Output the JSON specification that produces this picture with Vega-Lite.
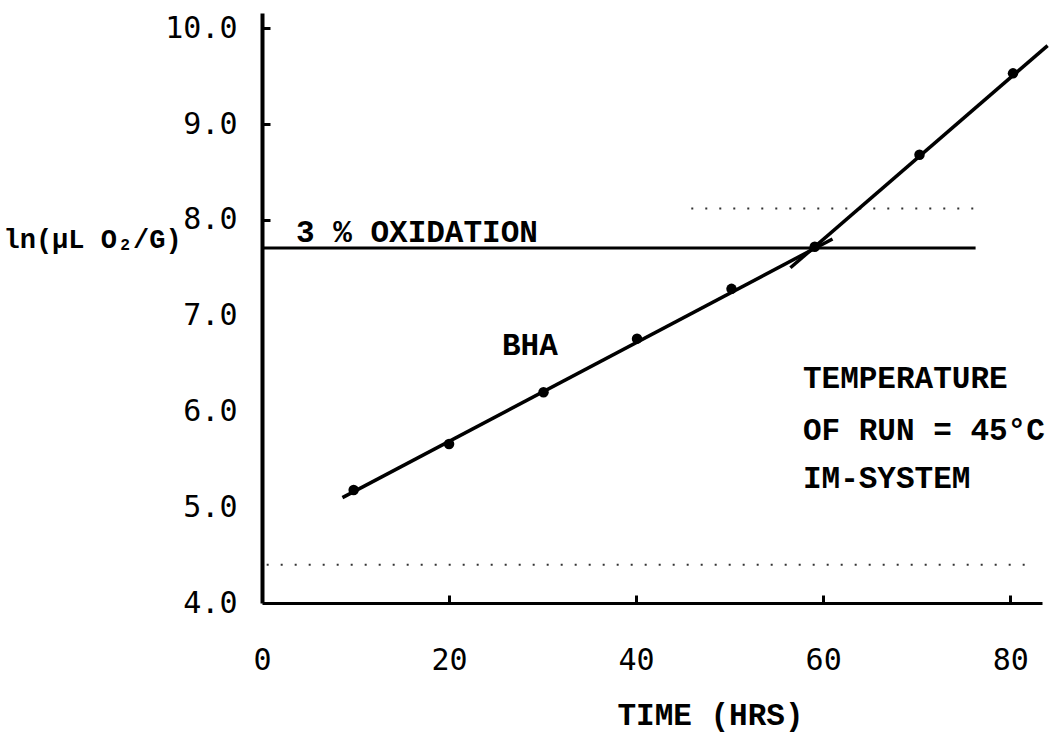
{
  "$schema": "https://vega.github.io/schema/vega-lite/v6.json",
  "width": 780,
  "height": 590,
  "autosize": {"type": "none"},
  "padding": {"left": 262, "top": 13, "right": 12, "bottom": 134},
  "background": "white",
  "config": {"view": {"stroke": null}, "axis": {"grid": false}},
  "datasets": {
    "points": [
      {"t": 9.8, "v": 5.18},
      {"t": 20.0, "v": 5.66},
      {"t": 30.1, "v": 6.2},
      {"t": 40.1, "v": 6.76},
      {"t": 50.2, "v": 7.28},
      {"t": 59.1, "v": 7.72},
      {"t": 70.3, "v": 8.68},
      {"t": 80.3, "v": 9.53}
    ],
    "fits": [
      {"seg": "lower", "t": 8.6, "v": 5.1},
      {"seg": "lower", "t": 61.0, "v": 7.8},
      {"seg": "upper", "t": 56.5, "v": 7.5},
      {"seg": "upper", "t": 84.0, "v": 9.82}
    ],
    "level": [{"t": 0, "t2": 76.3, "v": 7.706}],
    "dots": [
      {"t": 45.9, "t2": 76.3, "v": 8.12},
      {"t": 0.5, "t2": 82.0, "v": 4.4}
    ],
    "notes": [
      {"t": 3.64, "v": 7.77, "label": "3 % OXIDATION"},
      {"t": 25.66, "v": 6.59, "label": "BHA"},
      {"t": 57.84, "v": 6.245, "label": "TEMPERATURE"},
      {"t": 57.84, "v": 5.7, "label": "OF RUN = 45°C"},
      {"t": 57.84, "v": 5.2, "label": "IM-SYSTEM"}
    ]
  },
  "layer": [
    {
      "data": {"name": "points"},
      "mark": {"type": "point", "filled": true, "color": "black", "size": 110, "opacity": 1},
      "encoding": {
        "x": {
          "field": "t", "type": "quantitative",
          "scale": {"domain": [0, 83.4], "nice": false, "zero": false},
          "axis": {
            "values": [0, 20, 40, 60, 80], "format": "d",
            "title": "TIME (HRS)",
            "titleFont": "Liberation Mono", "titleFontSize": 31, "titleFontWeight": "bold", "titleColor": "black",
            "titleX": 448, "titleY": 121, "titleAlign": "center", "titleBaseline": "alphabetic",
            "labelFont": "DejaVu Sans Mono", "labelFontSize": 30, "labelColor": "black", "labelPadding": 50,
            "domainColor": "black", "domainWidth": 3,
            "tickColor": "black", "tickWidth": 3, "tickSize": -8,
            "tickOpacity": {"condition": {"test": "datum.value > 0", "value": 1}, "value": 0},
            "labelFlush": false
          }
        },
        "y": {
          "field": "v", "type": "quantitative",
          "scale": {"domain": [4, 10.16], "nice": false, "zero": false},
          "axis": {
            "values": [4, 5, 6, 7, 8, 9, 10], "format": ".1f",
            "title": "ln(μL O₂/G)",
            "titleFont": "Liberation Mono", "titleFontSize": 27, "titleFontWeight": "bold", "titleColor": "black",
            "titleAngle": 0, "titleX": -259, "titleY": 234, "titleAlign": "left", "titleBaseline": "alphabetic",
            "labelFont": "DejaVu Sans Mono", "labelFontSize": 30, "labelColor": "black", "labelPadding": 33,
            "domainColor": "black", "domainWidth": 4,
            "tickColor": "black", "tickWidth": 3, "tickSize": -8,
            "tickOpacity": {"condition": {"test": "datum.value >= 8", "value": 1}, "value": 0},
            "labelFlush": false
          }
        }
      }
    },
    {
      "data": {"name": "dots"},
      "mark": {"type": "rule", "color": "#333333", "strokeWidth": 2, "strokeDash": [2, 12]},
      "encoding": {
        "x": {"field": "t", "type": "quantitative"},
        "x2": {"field": "t2"},
        "y": {"field": "v", "type": "quantitative"}
      }
    },
    {
      "data": {"name": "level"},
      "mark": {"type": "rule", "color": "black", "strokeWidth": 3},
      "encoding": {
        "x": {"field": "t", "type": "quantitative"},
        "x2": {"field": "t2"},
        "y": {"field": "v", "type": "quantitative"}
      }
    },
    {
      "data": {"name": "fits"},
      "mark": {"type": "line", "color": "black", "strokeWidth": 3.5},
      "encoding": {
        "x": {"field": "t", "type": "quantitative"},
        "y": {"field": "v", "type": "quantitative"},
        "detail": {"field": "seg", "type": "nominal"}
      }
    },
    {
      "data": {"name": "notes"},
      "mark": {"type": "text", "align": "left", "baseline": "alphabetic", "font": "Liberation Mono", "fontSize": 31, "fontWeight": "bold", "color": "black"},
      "encoding": {
        "x": {"field": "t", "type": "quantitative"},
        "y": {"field": "v", "type": "quantitative"},
        "text": {"field": "label", "type": "nominal"}
      }
    }
  ]
}
